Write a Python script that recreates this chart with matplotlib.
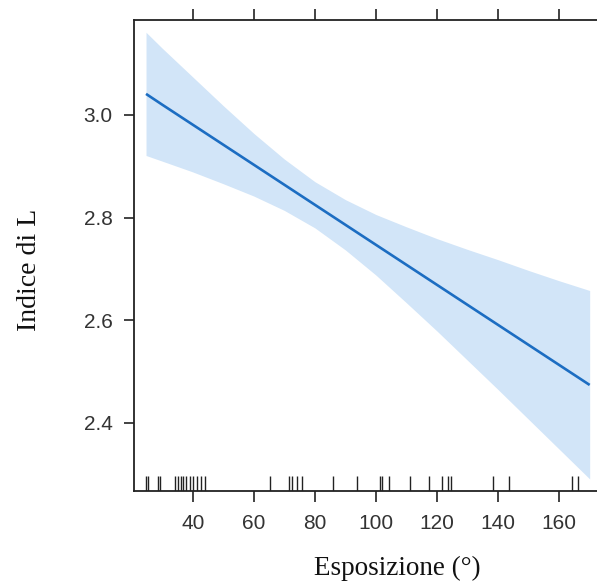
import matplotlib
matplotlib.use("Agg")
import matplotlib.pyplot as plt

# Data
x_pts = [24.7, 30, 40, 50, 60, 70, 80, 90, 100, 110, 120, 130, 140, 150, 160, 170]
fit = [3.041, 3.020, 2.981, 2.942, 2.903, 2.864, 2.825, 2.786, 2.747, 2.708,
       2.669, 2.630, 2.591, 2.552, 2.513, 2.474]
upper = [3.161, 3.130, 3.074, 3.018, 2.964, 2.914, 2.870, 2.835, 2.806, 2.782,
         2.759, 2.738, 2.718, 2.697, 2.677, 2.658]
lower = [2.921, 2.910, 2.889, 2.866, 2.842, 2.814, 2.780, 2.737, 2.688, 2.634,
         2.579, 2.522, 2.465, 2.407, 2.349, 2.291]
rug = [24.6, 25.5, 28.5, 29.4, 34.2, 35.1, 36.0, 36.9, 37.9, 39.0, 40.2, 41.5,
       42.8, 44.1, 65.3, 71.5, 72.4, 74.1, 75.9, 85.8, 93.7, 101.3, 102.1, 104.3,
       111.2, 117.4, 121.5, 123.7, 124.5, 138.5, 143.7, 164.1, 166.3]
xticks = [40, 60, 80, 100, 120, 140, 160]
yticks = [2.4, 2.6, 2.8, 3.0]
ytick_labels = ["2.4", "2.6", "2.8", "3.0"]
xlabel = "Esposizione (°)"
ylabel = "Indice di L"

fig = plt.figure(figsize=(5.97, 5.87), dpi=100)
ax = fig.add_axes([0.2245, 0.164, 0.7755, 0.802])

ax.fill_between(x_pts, lower, upper, color="#d2e5f8", linewidth=0, zorder=1)
ax.plot(x_pts, fit, color="#1c6dc2", linewidth=1.9, zorder=3, solid_capstyle="butt")
ax.vlines(rug, 0, 0.032, transform=ax.get_xaxis_transform(), color="#222222",
          linewidth=1.0, zorder=4)

ax.set_xlim(20.77, 172.4)
ax.set_ylim(2.268, 3.185)

ax.set_xticks(xticks)
ax.set_yticks(yticks)
ax.set_yticklabels(ytick_labels)

for side in ["left", "bottom", "top"]:
    ax.spines[side].set_linewidth(1.3)
    ax.spines[side].set_color("#222222")
ax.spines["right"].set_visible(False)

ax.tick_params(axis="x", which="both", direction="out", length=8, width=1.2,
               color="#222222", top=True, labeltop=False, bottom=True,
               labelsize=15, labelcolor="#333333", pad=9)
ax.tick_params(axis="y", which="both", direction="out", length=7.5, width=1.2,
               color="#222222", right=False, labelsize=15, labelcolor="#333333", pad=8)
for lbl in ax.get_xticklabels() + ax.get_yticklabels():
    lbl.set_fontfamily("Liberation Sans")

ax.set_xlabel(xlabel, fontsize=19.5, family="Liberation Serif", color="#111111")
ax.set_ylabel(ylabel, fontsize=20, family="Liberation Serif", color="#111111")
ax.xaxis.set_label_coords(0.568, -0.138)
ax.yaxis.set_label_coords(-0.198, 0.47)

fig.savefig("out.png", dpi=100)
